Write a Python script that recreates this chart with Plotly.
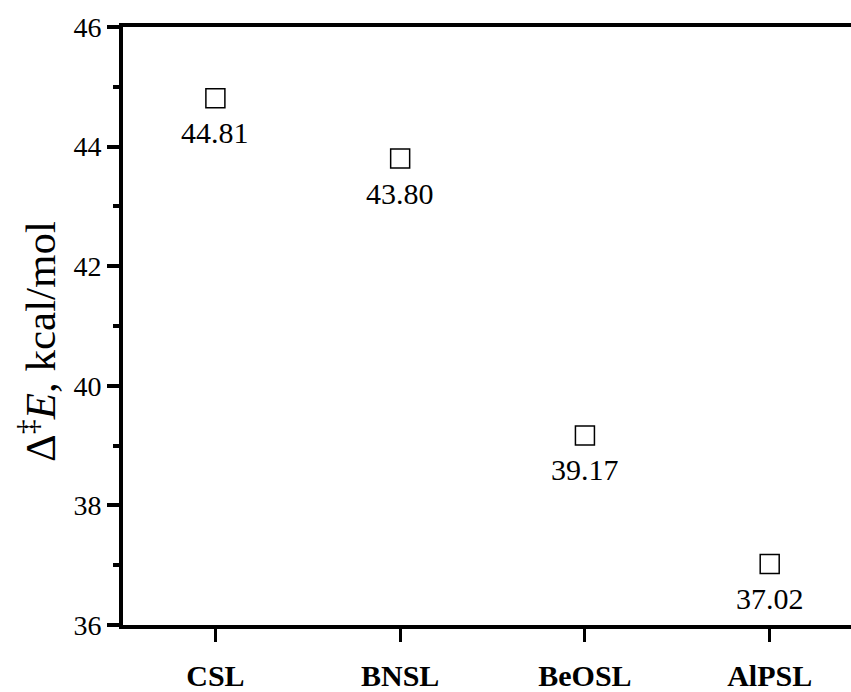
import plotly.graph_objects as go

categories = ["CSL", "BNSL", "BeOSL", "AlPSL"]
values = [44.81, 43.80, 39.17, 37.02]
value_labels = ["44.81", "43.80", "39.17", "37.02"]
y_tick_vals = [36, 38, 40, 42, 44, 46]

FONT = "Liberation Serif"
xpos = list(range(len(categories)))

fig = go.Figure()
fig.add_trace(go.Scatter(
    x=xpos, y=values, mode="markers",
    marker=dict(symbol="square-open", size=19, color="black", line=dict(width=1.5, color="black")),
    cliponaxis=False, showlegend=False,
))
for xi, v, lab in zip(xpos, values, value_labels):
    fig.add_annotation(
        x=xi, y=v, text=lab, showarrow=False, xanchor="center", yanchor="top",
        yshift=-16, font=dict(family=FONT, size=30, color="black"),
    )

fig.update_layout(
    width=851, height=692,
    margin=dict(l=123, r=0, t=27, b=67, autoexpand=False),
    paper_bgcolor="white", plot_bgcolor="white",
    font=dict(family=FONT, color="black"),
)
fig.update_xaxes(
    range=[-0.5, 3.44], tickvals=xpos, ticktext=["<b>%s</b>" % c for c in categories],
    tickfont=dict(family=FONT, size=30, color="black"),
    showgrid=False, zeroline=False,
    showline=True, linewidth=4, linecolor="black", mirror=True,
    ticks="outside", ticklen=13, tickwidth=3, tickcolor="black",
    ticklabelstandoff=8,
)
fig.update_yaxes(
    range=[36, 46], tickvals=y_tick_vals,
    tickfont=dict(family=FONT, size=28, color="black"),
    showgrid=False, zeroline=False,
    showline=True, linewidth=4, linecolor="black",
    ticks="outside", ticklen=12, tickwidth=3.5, tickcolor="black",
    minor=dict(dtick=1, ticks="outside", ticklen=6, tickwidth=3.5, tickcolor="black", showgrid=False),
)
fig.add_annotation(
    text="Δ<sup>‡</sup><i>E</i>, kcal/mol", textangle=-90,
    xref="paper", yref="paper", x=(37 - 123) / 728, y=(625 - 342) / 598,
    xanchor="center", yanchor="middle", showarrow=False,
    font=dict(family=FONT, size=43, color="black"),
)
fig.write_html("out.html", config={"displayModeBar": False},
               post_script="document.body.style.margin='0';")
